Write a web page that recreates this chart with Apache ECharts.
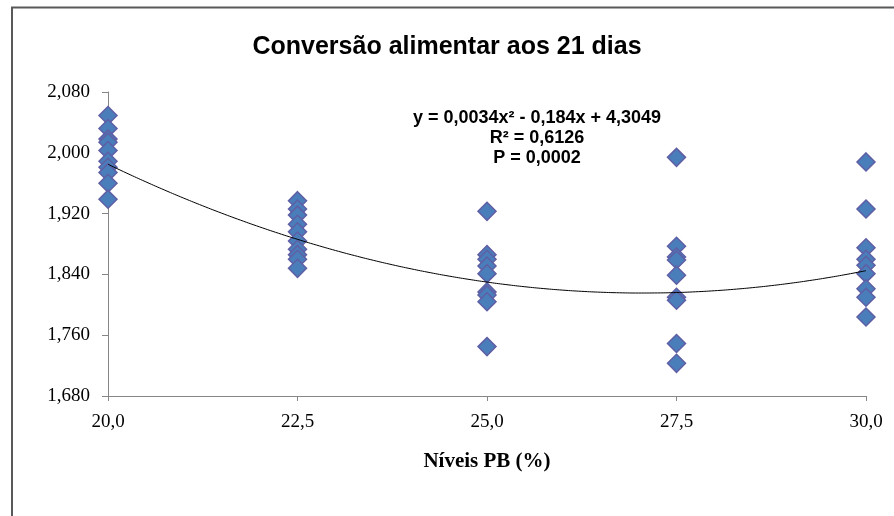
<!DOCTYPE html>
<html>
<head>
<meta charset="utf-8">
<script src="https://cdn.jsdelivr.net/npm/echarts@6/dist/echarts.min.js"></script>
<style>html,body{margin:0;padding:0;background:#fff;}#c{width:894px;height:516px;}</style>
</head>
<body>
<div id="c"></div>
<script>
var titleText = 'Conversão alimentar aos 21 dias';
var xAxisName = 'Níveis PB (%)';
var levels = [20.0, 22.5, 25.0, 27.5, 30.0];
var v20 = [2.049, 2.032, 2.018, 2.014, 2.003, 1.989, 1.981, 1.974, 1.960, 1.939];
var v22_5 = [1.937, 1.926, 1.918, 1.906, 1.896, 1.884, 1.873, 1.866, 1.860, 1.848];
var v25 = [1.923, 1.866, 1.860, 1.851, 1.841, 1.817, 1.813, 1.804, 1.745];
var v27_5 = [1.994, 1.877, 1.863, 1.859, 1.839, 1.810, 1.806, 1.749, 1.723];
var v30 = [1.988, 1.926, 1.875, 1.860, 1.852, 1.841, 1.821, 1.810, 1.784];
var groups = [v20, v22_5, v25, v27_5, v30];
var trendCoef = [0.0034, -0.184, 4.3049]; // a, b, c from the displayed equation
var eqLines = ['y = 0,0034x² - 0,184x + 4,3049', 'R² = 0,6126', 'P = 0,0002'];

var scatterData = [];
groups.forEach(function (g, i) { g.forEach(function (v) { scatterData.push([levels[i], v]); }); });
var trendData = [];
for (var k = 0; k <= 40; k++) {
  var x = 20 + k * 0.25;
  trendData.push([x, trendCoef[0] * x * x + trendCoef[1] * x + trendCoef[2]]);
}

var chart = echarts.init(document.getElementById('c'));
chart.setOption({
  animation: false,
  title: {
    text: titleText, left: 'center', top: 30,
    textStyle: { fontFamily: 'Liberation Sans, Arial', fontWeight: 'bold', fontSize: 25, color: '#000' }
  },
  grid: { left: 108, right: 28, top: 92, bottom: 120 },
  xAxis: {
    type: 'value', min: 20, max: 30, interval: 2.5,
    name: xAxisName, nameLocation: 'middle', nameGap: 55,
    nameTextStyle: { fontFamily: 'Liberation Serif, Times New Roman', fontWeight: 'bold', fontSize: 21, color: '#000' },
    axisLine: { show: true, lineStyle: { color: '#868686', width: 1 } },
    axisTick: { show: true, length: 5, lineStyle: { color: '#868686' } },
    splitLine: { show: false },
    axisLabel: {
      margin: 17, fontFamily: 'Liberation Serif, Times New Roman', fontSize: 19, color: '#000',
      formatter: function (v) { return v.toFixed(1).replace('.', ','); }
    }
  },
  yAxis: {
    type: 'value', min: 1.68, max: 2.08, interval: 0.08,
    axisLine: { show: true, lineStyle: { color: '#868686', width: 1 } },
    axisTick: { show: true, length: 6, lineStyle: { color: '#868686' } },
    splitLine: { show: false },
    axisLabel: {
      margin: 18, fontFamily: 'Liberation Serif, Times New Roman', fontSize: 19, color: '#000',
      formatter: function (v) { return v.toFixed(3).replace('.', ','); }
    }
  },
  graphic: [
    { type: 'rect', shape: { x: 12, y: 7.5, width: 1000, height: 1000 }, style: { fill: 'none', stroke: '#595959', lineWidth: 2 }, z: 0, silent: true },
    { type: 'text', x: 537, y: 108, z: 10,
      style: { text: eqLines.join('\n'), textAlign: 'center', textVerticalAlign: 'top',
        fontFamily: 'Liberation Sans, Arial', fontWeight: 'bold', fontSize: 18, lineHeight: 20, fill: '#000' } }
  ],
  series: [
    { type: 'scatter', data: scatterData, symbol: 'diamond', symbolSize: 18,
      itemStyle: { color: '#4A7EBB', borderColor: '#5F5FA5', borderWidth: 1.5, opacity: 1 }, z: 2 },
    { type: 'line', data: trendData, showSymbol: false, symbol: 'none', smooth: true,
      lineStyle: { color: '#000', width: 1 }, z: 3 }
  ]
});
</script>
</body>
</html>
